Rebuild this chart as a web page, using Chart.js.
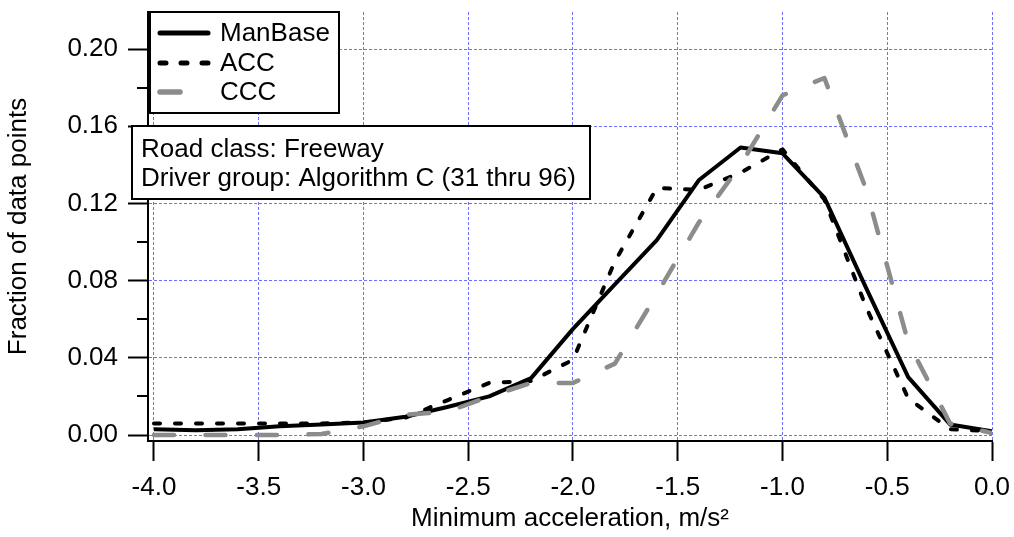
<!DOCTYPE html>
<html>
<head>
<meta charset="utf-8">
<script src="https://cdn.jsdelivr.net/npm/chart.js@4.4.1/dist/chart.umd.min.js"></script>
<style>
  html, body { margin: 0; padding: 0; background: #fff; }
  canvas { display: block; }
</style>
</head>
<body>
<canvas id="chart" width="1014" height="537"></canvas>
<script>
// minimum acceleration bins, m/s^2
const accel = [-4.0, -3.8, -3.6, -3.4, -3.2, -3.0, -2.8, -2.6, -2.4, -2.2, -2.0,
               -1.8, -1.6, -1.4, -1.2, -1.0, -0.8, -0.6, -0.4, -0.2, 0.0];
const manBase = [0.003, 0.0025, 0.003, 0.0045, 0.0055, 0.0065, 0.0095, 0.0145, 0.020, 0.0295, 0.055,
                 0.078, 0.101, 0.132, 0.149, 0.146, 0.123, 0.076, 0.030, 0.0055, 0.002];
const acc = [0.006, 0.006, 0.006, 0.006, 0.006, 0.0065, 0.009, 0.018, 0.027, 0.028, 0.039,
             0.090, 0.128, 0.127, 0.136, 0.148, 0.122, 0.066, 0.019, 0.003, 0.002];
const ccc = [0, 0, 0, 0, 0.0005, 0.0045, 0.0105, 0.012, 0.020, 0.027, 0.027,
             0.037, 0.073, 0.110, 0.140, 0.176, 0.185, 0.127, 0.048, 0.006, 0.001];

const xTickValues = [-4.0, -3.5, -3.0, -2.5, -2.0, -1.5, -1.0, -0.5, 0.0];
const yTickValues = [0, 0.04, 0.08, 0.12, 0.16, 0.20];
const yMinorTicks = [0.02, 0.06, 0.10, 0.14, 0.18];
const infoLines = ["Road class: Freeway", "Driver group: Algorithm C (31 thru 96)"];

const FONT = "'Liberation Sans', Arial, Helvetica, sans-serif";
const GRID_BLUE = "rgb(110,110,255)";

Chart.defaults.font.family = FONT;
Chart.defaults.color = "#000";

const toPoints = (ys) => ys.map((v, i) => ({ x: accel[i], y: v }));

// axis line, minor y ticks, legend and text box
const overlay = {
  id: "overlay",
  afterDraw(chart) {
    const { ctx, chartArea, scales } = chart;
    const y = scales.y;
    ctx.save();

    ctx.strokeStyle = "#000";
    ctx.lineWidth = 2;
    ctx.setLineDash([]);
    ctx.beginPath();
    ctx.moveTo(chartArea.left - 1, chartArea.bottom);
    ctx.lineTo(chartArea.right + 1, chartArea.bottom);
    ctx.stroke();

    yMinorTicks.forEach((v) => {
      const py = Math.round(y.getPixelForValue(v));
      ctx.beginPath();
      ctx.moveTo(chartArea.left - 11, py);
      ctx.lineTo(chartArea.left, py);
      ctx.stroke();
    });

    // legend box
    const lx = chartArea.left + 2, ly = chartArea.top;
    ctx.fillStyle = "#fff";
    ctx.fillRect(lx, ly, 189, 101);
    ctx.strokeRect(lx, ly, 189, 101);
    ctx.font = "26px " + FONT;
    ctx.textBaseline = "middle";
    ctx.textAlign = "left";
    const rows = [21, 51, 80];
    chart.data.datasets.forEach((ds, i) => {
      const ry = ly + rows[i];
      ctx.save();
      ctx.strokeStyle = ds.borderColor;
      ctx.lineWidth = ds.borderWidth + 1;
      ctx.lineCap = "round";
      ctx.setLineDash(ds.borderDash || []);
      ctx.beginPath();
      ctx.moveTo(lx + 10, ry);
      ctx.lineTo(i === 2 ? lx + 31 : lx + 58, ry);
      ctx.stroke();
      ctx.restore();
      ctx.fillStyle = "#000";
      ctx.fillText(ds.label, lx + 70, ry + 1);
    });

    // road class / driver group box
    const bx = chartArea.left - 16;
    const by = Math.round(y.getPixelForValue(0.16));
    ctx.fillStyle = "#fff";
    ctx.fillRect(bx, by, 458, 73);
    ctx.strokeStyle = "#000";
    ctx.lineWidth = 2;
    ctx.strokeRect(bx, by, 458, 73);
    ctx.fillStyle = "#000";
    ctx.textBaseline = "alphabetic";
    ctx.fillText(infoLines[0], bx + 9, by + 31);
    ctx.fillText(infoLines[1], bx + 9, by + 60);

    ctx.restore();
  }
};

new Chart(document.getElementById("chart"), {
  type: "line",
  data: {
    datasets: [
      {
        label: "ManBase",
        data: toPoints(manBase),
        borderColor: "#000",
        borderWidth: 4,
        borderJoinStyle: "round",
        order: 3
      },
      {
        label: "ACC",
        data: toPoints(acc),
        borderColor: "#000",
        borderWidth: 4,
        borderDash: [6, 15],
        borderCapStyle: "round",
        borderJoinStyle: "round",
        order: 2
      },
      {
        label: "CCC",
        data: toPoints(ccc),
        borderColor: "#8c8c8c",
        borderWidth: 4.5,
        borderDash: [20, 31.5],
        borderCapStyle: "round",
        borderJoinStyle: "round",
        order: 1
      }
    ]
  },
  options: {
    responsive: false,
    animation: false,
    devicePixelRatio: 1,
    layout: { padding: { top: 12, right: 22, left: 0, bottom: 0 } },
    elements: { point: { radius: 0 }, line: { tension: 0 } },
    plugins: { legend: { display: false }, tooltip: { enabled: false } },
    scales: {
      x: {
        type: "linear",
        min: -4.0286,
        max: 0,
        afterBuildTicks: (s) => { s.ticks = xTickValues.map((v) => ({ value: v })); },
        afterFit: (s) => { s.height = 96; s.paddingLeft = 0; s.paddingRight = 0; },
        ticks: {
          callback: (v) => v.toFixed(1),
          font: { size: 26 },
          color: "#000",
          padding: 11,
          maxRotation: 0,
          autoSkip: false
        },
        grid: { color: GRID_BLUE, lineWidth: 1, tickLength: 20, tickColor: "#000", tickWidth: 2 },
        border: { display: true, color: "#000", width: 2, dash: [3, 2] },
        title: {
          display: true,
          text: "Minimum acceleration, m/s²",
          font: { size: 26 },
          color: "#000",
          padding: { top: 0, bottom: 3 }
        }
      },
      y: {
        min: -0.0031,
        max: 0.2192,
        afterBuildTicks: (s) => { s.ticks = yTickValues.map((v) => ({ value: v })); },
        afterFit: (s) => { s.width = 148; s.paddingTop = 0; s.paddingBottom = 0; },
        ticks: {
          callback: (v) => v.toFixed(2),
          font: { size: 26 },
          color: "#000",
          padding: 10
        },
        grid: { color: GRID_BLUE, lineWidth: 1, tickLength: 20, tickColor: "#000", tickWidth: 2 },
        border: { display: true, color: "#000", width: 2, dash: [3, 2] },
        title: {
          display: true,
          text: "Fraction of data points",
          font: { size: 26 },
          color: "#000",
          padding: { top: 3, bottom: 0 }
        }
      }
    }
  },
  plugins: [overlay]
});
</script>
</body>
</html>
